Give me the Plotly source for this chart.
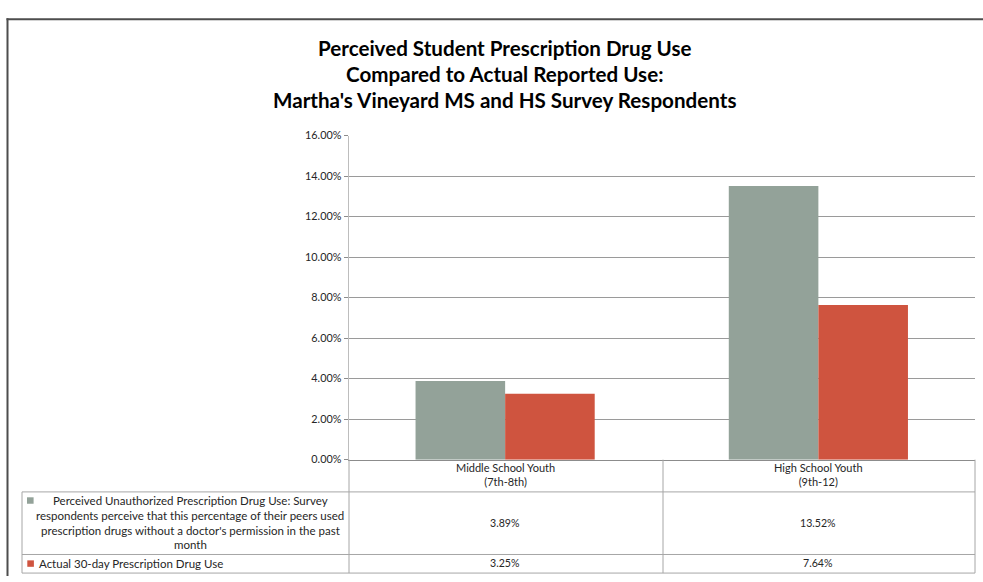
import plotly.graph_objects as go

W, H = 983, 582

# ---- data ----
categories = ["Middle School Youth", "High School Youth"]
category_grades = ["(7th-8th)", "(9th-12)"]
perceived_name_lines = [
    "Perceived Unauthorized Prescription Drug Use: Survey",
    "respondents perceive that this percentage of their peers used",
    "prescription drugs without a doctor's permission in the past",
    "month",
]
actual_name = "Actual 30-day Prescription Drug Use"
perceived = [3.89, 13.52]
actual = [3.25, 7.64]
y_ticks = [0, 2, 4, 6, 8, 10, 12, 14, 16]
title_lines = [
    "Perceived Student Prescription Drug Use",
    "Compared to Actual Reported Use:",
    "Martha's Vineyard MS and HS Survey Respondents",
]

GRAY = "#93A299"
RED = "#CF543F"
GRID = "#a6a6a6"
TXT = "#262626"
FONT = "Lato"


def fx(x):
    return x / W


def fy(y):
    return 1 - y / H


fig = go.Figure()
fig.add_trace(go.Bar(x=categories, y=perceived, name=" ".join(perceived_name_lines),
                     marker=dict(color=GRAY, line=dict(width=0))))
fig.add_trace(go.Bar(x=categories, y=actual, name=actual_name,
                     marker=dict(color=RED, line=dict(width=0))))

fig.update_layout(
    width=W, height=H,
    margin=dict(l=0, r=0, t=0, b=0),
    paper_bgcolor="white", plot_bgcolor="white",
    showlegend=False,
    barmode="group", bargap=0.428, bargroupgap=0,
    font=dict(family=FONT, color=TXT, size=11),
    xaxis=dict(domain=[fx(348.5), fx(975)], type="category",
               showticklabels=False, showgrid=False,
               showline=True, linecolor="#8c8c8c", linewidth=1,
               ticks="", zeroline=False, fixedrange=True),
    yaxis=dict(domain=[fy(463), fy(131.6)], range=[0, 16],
               tickvals=y_ticks, ticktext=[f"{v:.2f}%" for v in y_ticks],
               ticks="outside", ticklen=4, tickcolor="#8c8c8c",
               showline=True, linecolor="#bdbdbd", linewidth=1,
               showgrid=True, gridcolor="#9a9a9a", gridwidth=1,
               zeroline=False, tickfont=dict(size=10.8, color=TXT),
               fixedrange=True),
)

shapes = []


def hline(y, x0, x1, color=GRID, w=1):
    shapes.append(dict(type="line", xref="paper", yref="paper",
                       x0=fx(x0), x1=fx(x1), y0=fy(y), y1=fy(y),
                       line=dict(color=color, width=w)))


def vline(x, y0, y1, color=GRID, w=1):
    shapes.append(dict(type="line", xref="paper", yref="paper",
                       x0=fx(x), x1=fx(x), y0=fy(y0), y1=fy(y1),
                       line=dict(color=color, width=w)))


# chart frame
hline(12.5, 6.5, 983, color="#4d4d4d", w=2)
vline(7.5, 11.5, 582, color="#4d4d4d", w=2)

# data table grid
for y in (496, 560, 579):
    hline(y, 22, 975)
vline(22, 496, 579)
for x in (349, 663, 975):
    vline(x, 463, 579)

# legend keys inside the table
for (x0, y0, c) in ((27, 501.5, GRAY), (27.3, 566, RED)):
    shapes.append(dict(type="rect", xref="paper", yref="paper",
                       x0=fx(x0), x1=fx(x0 + 6.6), y0=fy(y0), y1=fy(y0 + 6.6),
                       fillcolor=c, line=dict(width=0)))

annotations = []
for line, y in zip(title_lines, (42, 68.5, 95)):
    annotations.append(dict(text=f"<b>{line}</b>", xref="paper", yref="paper",
                            x=fx(505), y=fy(y), xanchor="center", yanchor="middle",
                            showarrow=False,
                            font=dict(size=20.6, color="black", family=FONT)))
for line, y in zip(perceived_name_lines, (505, 520, 535, 550)):
    annotations.append(dict(text=line, xref="paper", yref="paper",
                            x=fx(190), y=fy(y), xanchor="center", yanchor="middle",
                            showarrow=False, font=dict(size=11.5)))
annotations.append(dict(text=actual_name, xref="paper", yref="paper",
                        x=fx(36.5), y=fy(569), xanchor="left", yanchor="middle",
                        showarrow=False, font=dict(size=11.5)))
for cat, grade, p, a in zip(categories, category_grades, perceived, actual):
    annotations.append(dict(text=f"{cat}<br>{grade}", xref="x", yref="paper",
                            x=cat, y=fy(478), xanchor="center", yanchor="middle",
                            showarrow=False, font=dict(size=11)))
    annotations.append(dict(text=f"{p:.2f}%", xref="x", yref="paper",
                            x=cat, y=fy(528), xanchor="center", yanchor="middle",
                            showarrow=False, font=dict(size=10.6)))
    annotations.append(dict(text=f"{a:.2f}%", xref="x", yref="paper",
                            x=cat, y=fy(569), xanchor="center", yanchor="middle",
                            showarrow=False, font=dict(size=10.6)))

fig.update_layout(shapes=shapes, annotations=annotations)
fig.write_html("out.html")
